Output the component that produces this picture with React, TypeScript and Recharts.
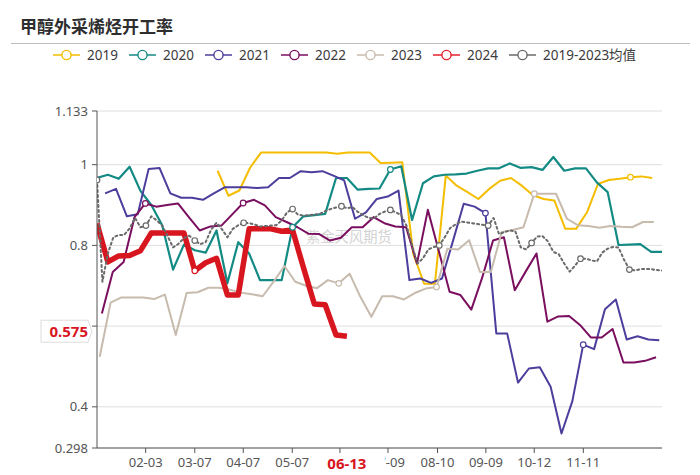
import React from 'react';
import { LineChart, Line, XAxis, YAxis, CartesianGrid } from 'recharts';

// ---------- texts ----------
const chartTitle = '甲醇外采烯烃开工率';
const watermarkText = '紫金天风期货';
const avgName = '2019-2023均值';

// ---------- axes ----------
// x positions are measured in weeks from the first observation of the season
const tickWeeks = [4.48, 9.0, 13.46, 17.97, 22.36, 26.78, 31.34, 35.79, 40.24, 44.76];
const tickLabels = ['02-03', '03-07', '04-07', '05-07', '06-13', '07-09', '08-10', '09-09', '10-12', '11-11'];
const yTicks = [0.298, 0.4, 0.6, 0.8, 1, 1.133];
const yDomain = [0.298, 1.133];
const xDomain = [0, 52];

const latestDate = '06-13';
const latestValue = 0.575;

// ---------- series values ----------
const values2019 = [0.985, 0.923, 0.936, 0.993, 1.03, 1.03, 1.03, 1.03, 1.03, 1.03, 1.03, 1.027, 1.03, 1.03, 1.03, 1.004, 1.005, 1.006, 0.78, 0.705, 0.705, 0.973, 0.948, 0.932, 0.915, 0.94, 0.96, 0.967, 0.948, 0.925, 0.915, 0.911, 0.841, 0.841, 0.882, 0.952, 0.962, 0.965, 0.969, 0.971, 0.967];
const values2020 = [0.967, 0.975, 0.965, 0.995, 0.935, 0.9, 0.85, 0.74, 0.802, 0.788, 0.782, 0.837, 0.706, 0.808, 0.78, 0.714, 0.714, 0.714, 0.845, 0.872, 0.875, 0.878, 0.967, 0.967, 0.938, 0.94, 0.941, 0.988, 0.996, 0.863, 0.954, 0.971, 0.975, 0.976, 0.978, 0.985, 0.991, 0.991, 1.003, 0.992, 0.994, 0.987, 1.019, 0.985, 0.991, 0.991, 0.956, 0.932, 0.801, 0.802, 0.803, 0.784, 0.784];
const values2021 = [0.929, 0.94, 0.872, 0.877, 0.989, 0.992, 0.929, 0.918, 0.918, 0.913, 0.929, 0.944, 0.944, 0.944, 0.942, 0.944, 0.967, 0.967, 0.984, 0.981, 0.984, 0.973, 0.961, 0.866, 0.882, 0.915, 0.921, 0.936, 0.714, 0.718, 0.707, 0.718, 0.81, 0.903, 0.896, 0.88, 0.582, 0.582, 0.46, 0.495, 0.498, 0.45, 0.334, 0.414, 0.554, 0.543, 0.642, 0.666, 0.567, 0.575, 0.567, 0.565];
const values2022 = [0.631, 0.734, 0.759, 0.87, 0.904, 0.896, 0.9, 0.904, 0.87, 0.837, 0.847, 0.849, 0.877, 0.905, 0.913, 0.899, 0.87, 0.858, 0.845, 0.829, 0.828, 0.812, 0.819, 0.845, 0.845, 0.87, 0.855, 0.847, 0.845, 0.755, 0.888, 0.787, 0.685, 0.677, 0.641, 0.72, 0.812, 0.82, 0.689, 0.735, 0.78, 0.611, 0.624, 0.625, 0.603, 0.572, 0.572, 0.593, 0.51, 0.51, 0.514, 0.523];
const values2023 = [0.524, 0.658, 0.671, 0.671, 0.671, 0.667, 0.678, 0.578, 0.682, 0.684, 0.695, 0.695, 0.69, 0.683, 0.679, 0.674, 0.71, 0.749, 0.71, 0.7, 0.694, 0.714, 0.706, 0.73, 0.672, 0.623, 0.674, 0.674, 0.666, 0.682, 0.693, 0.697, 0.792, 0.79, 0.813, 0.734, 0.734, 0.833, 0.838, 0.845, 0.928, 0.928, 0.928, 0.866, 0.85, 0.848, 0.844, 0.848, 0.846, 0.845, 0.858, 0.858];
const values2024 = [0.854, 0.759, 0.774, 0.775, 0.787, 0.831, 0.831, 0.831, 0.831, 0.737, 0.757, 0.768, 0.677, 0.677, 0.841, 0.841, 0.841, 0.835, 0.838, 0.745, 0.655, 0.653, 0.578, 0.575];
const valuesAvg = [
  0.962, 0.71, 0.78, 0.82, 0.826, 0.826, 0.842, 0.868, 0.845, 0.849,
  0.872, 0.862, 0.849, 0.823, 0.795, 0.804, 0.818, 0.824, 0.812, 0.803,
  0.808, 0.839, 0.856, 0.84, 0.82, 0.841, 0.85, 0.856, 0.855, 0.852,
  0.847, 0.848, 0.849, 0.85, 0.862, 0.882, 0.89, 0.876, 0.874, 0.875,
  0.876, 0.878, 0.885, 0.89, 0.894, 0.897, 0.892, 0.895, 0.883, 0.875,
  0.868, 0.867, 0.878, 0.884, 0.888, 0.882, 0.875, 0.848, 0.8, 0.755,
  0.768, 0.79, 0.796, 0.8, 0.82, 0.843, 0.852, 0.859, 0.857, 0.855,
  0.853, 0.851, 0.849, 0.868, 0.828, 0.833, 0.837, 0.835, 0.795, 0.79,
  0.806, 0.822, 0.823, 0.81, 0.784, 0.778, 0.755, 0.735, 0.75, 0.767,
  0.767, 0.763, 0.76, 0.782, 0.792, 0.796, 0.795, 0.765, 0.74, 0.738,
  0.741, 0.742, 0.741, 0.739, 0.738,
];

// first observation (in weeks) and spacing of each series' dates
const startWeeks = { y2019: 11.1, y2020: 0, y2021: 0.75, y2022: 0.45, y2023: 0.25, y2024: 0, avg: 0 };
const weekSteps = { weekly: 1, avg: 0.5 };

// which observations carry a hollow marker (the label dates)
const markers2019 = [38];
const markers2020 = [18, 27];
const markers2021 = [35, 44];
const markers2022 = [4, 13];
const markers2023 = [22, 31, 40];
const markers2024 = [9];
const markersAvg = [0, 9, 18, 27, 36, 45, 54, 63, 72, 80, 89, 98];

// ---------- styles ----------
const FONT = '"Noto Sans", "Noto Sans CJK SC", sans-serif';
const RED = '#d8161f';
const AXIS_GRAY = '#555';

const latestX = startWeeks.y2024 + (values2024.length - 1) * weekSteps.weekly;

const toPoints = (values: number[], start: number, step: number) =>
  values.map((v, j) => ({ x: start + j * step, v }));

const series = [
  { name: '2019', values: values2019, start: startWeeks.y2019, step: weekSteps.weekly, color: '#f4bd00', width: 2, markers: markers2019 },
  { name: '2020', values: values2020, start: startWeeks.y2020, step: weekSteps.weekly, color: '#138a84', width: 2.2, markers: markers2020 },
  { name: '2021', values: values2021, start: startWeeks.y2021, step: weekSteps.weekly, color: '#4b3e9c', width: 2, markers: markers2021 },
  { name: '2022', values: values2022, start: startWeeks.y2022, step: weekSteps.weekly, color: '#7a0f5f', width: 2, markers: markers2022 },
  { name: '2023', values: values2023, start: startWeeks.y2023, step: weekSteps.weekly, color: '#c7bbae', width: 2, markers: markers2023 },
  { name: '2024', values: values2024, start: startWeeks.y2024, step: weekSteps.weekly, color: RED, width: 5.5, markers: markers2024 },
  { name: avgName, values: valuesAvg, start: startWeeks.avg, step: weekSteps.avg, color: '#6a6a6a', width: 2, markers: markersAvg, dash: '2 3' },
];

const legendColors = ['#f4bd00', '#138a84', '#4b3e9c', '#7a0f5f', '#c7bbae', '#e5232b', '#6a6a6a'];

const makeDot = (markers: number[], color: string) => (props: any) => {
  const { cx, cy, index } = props;
  if (!markers.includes(index) || cx == null || cy == null) {
    return <g key={`n-${index}`} />;
  }
  return <circle key={`m-${index}`} cx={cx} cy={cy} r={2.8} fill="#fff" stroke={color} strokeWidth={1.2} />;
};

// x-axis tick; the last tick also draws the highlighted latest-date tag on top of all labels
const XTick = (props: any) => {
  const { x, y, payload, index } = props;
  const axisWidth = typeof props.width === 'number' && props.width > 100 ? props.width : 565;
  const label = tickLabels[tickWeeks.indexOf(payload.value)] ?? '';
  const isLast = index === tickWeeks.length - 1;
  const pxPerWeek = axisWidth / (xDomain[1] - xDomain[0]);
  const tagX = x + (latestX - payload.value) * pxPerWeek;
  return (
    <g>
      <text x={x} y={y} dy="0.71em" textAnchor="middle" fill={AXIS_GRAY} fontSize={13} fontFamily={FONT}>
        {label}
      </text>
      {isLast && (
        <g>
          <rect x={tagX - 38} y={y - 4} width={76} height={19} fill="#fff" />
          <text x={tagX} y={y + 4.5} textAnchor="middle" dominantBaseline="central" fill={RED} fontWeight={700} fontSize={15} fontFamily={FONT}>
            {latestDate}
          </text>
        </g>
      )}
    </g>
  );
};

// y-axis tick; the last tick also draws the latest-value tag on top of all labels
const YTick = (props: any) => {
  const { x, y, payload, index } = props;
  const axisHeight = typeof props.height === 'number' && props.height > 100 ? props.height : 337;
  const isLast = index === yTicks.length - 1;
  const pxPerUnit = axisHeight / (yDomain[1] - yDomain[0]);
  const tagY = y + (payload.value - latestValue) * pxPerUnit - 5;
  const axisX = x + 9;
  return (
    <g>
      <text x={x} y={y} dy="0.355em" textAnchor="end" fill={AXIS_GRAY} fontSize={13} fontFamily={FONT}>
        {String(payload.value)}
      </text>
      {isLast && (
        <g>
          <path
            d={`M ${axisX - 56} ${tagY - 11} H ${axisX - 9} L ${axisX - 5} ${tagY} L ${axisX - 9} ${tagY + 11} H ${axisX - 56} Z`}
            fill="#fff"
            stroke="#dcdcdc"
          />
          <text x={axisX - 9} y={tagY} textAnchor="end" dominantBaseline="central" fill={RED} fontWeight={700} fontSize={15} fontFamily={FONT}>
            {latestValue}
          </text>
        </g>
      )}
    </g>
  );
};

const Legend = () => {
  const names = series.map((s) => s.name);
  return (
    <svg width={700} height={22} style={{ position: 'absolute', left: 0, top: 44 }}>
      {names.map((n, k) => {
        const x0 = 53 + k * 76;
        const c = legendColors[k];
        return (
          <g key={n}>
            <line x1={x0} x2={x0 + 27} y1={11} y2={11} stroke={c} strokeWidth={1.5} />
            <circle cx={x0 + 13.5} cy={11} r={4.6} fill="#fff" stroke={c} strokeWidth={1.4} />
            <text x={x0 + 34} y={11} dominantBaseline="central" fontSize={13.5} fill="#3c3c3c" fontFamily={FONT}>
              {n}
            </text>
          </g>
        );
      })}
    </svg>
  );
};

export default function App() {
  return (
    <div style={{ position: 'absolute', left: 0, top: 0, width: 700, height: 475, background: '#fff', fontFamily: FONT, overflow: 'hidden' }}>
      <div
        style={{
          position: 'absolute', left: 20, top: 14, fontSize: 17, fontWeight: 700, lineHeight: '24px',
          fontFamily: '"Noto Sans CJK SC", sans-serif', color: '#2e2e2e', whiteSpace: 'nowrap',
        }}
      >
        {chartTitle}
      </div>
      <div style={{ position: 'absolute', left: 11, top: 42.5, width: 679, height: 0, borderTop: '1.5px solid #bdbdbd' }} />
      <Legend />
      <div
        style={{
          position: 'absolute', left: 306, top: 226, fontSize: 14.3, lineHeight: '20px',
          fontFamily: '"Noto Sans CJK SC", sans-serif', color: '#d3d3d3', whiteSpace: 'nowrap',
        }}
      >
        {watermarkText}
      </div>
      <div style={{ position: 'absolute', left: 0, top: 0 }}>
        <LineChart width={700} height={475} margin={{ top: 111, right: 38, bottom: 0, left: 37 }}>
          <CartesianGrid vertical={false} stroke="#dedede" />
          <XAxis
            type="number"
            dataKey="x"
            domain={xDomain}
            allowDataOverflow
            ticks={tickWeeks}
            interval={0}
            height={27}
            tickSize={5}
            tickMargin={5}
            axisLine={{ stroke: AXIS_GRAY }}
            tickLine={{ stroke: AXIS_GRAY }}
            tick={<XTick />}
          />
          <YAxis
            type="number"
            domain={yDomain}
            allowDataOverflow
            ticks={yTicks}
            interval={0}
            width={60}
            tickSize={5}
            tickMargin={4}
            axisLine={{ stroke: AXIS_GRAY }}
            tickLine={{ stroke: AXIS_GRAY }}
            tick={<YTick />}
          />
          {series.map((s) => (
            <Line
              key={s.name}
              name={s.name}
              data={toPoints(s.values, s.start, s.step)}
              dataKey="v"
              type="linear"
              stroke={s.color}
              strokeWidth={s.width}
              strokeDasharray={s.dash}
              strokeLinejoin="round"
              strokeLinecap={s.dash ? 'round' : 'butt'}
              dot={makeDot(s.markers, s.color)}
              activeDot={false}
              isAnimationActive={false}
            />
          ))}
        </LineChart>
      </div>
    </div>
  );
}
